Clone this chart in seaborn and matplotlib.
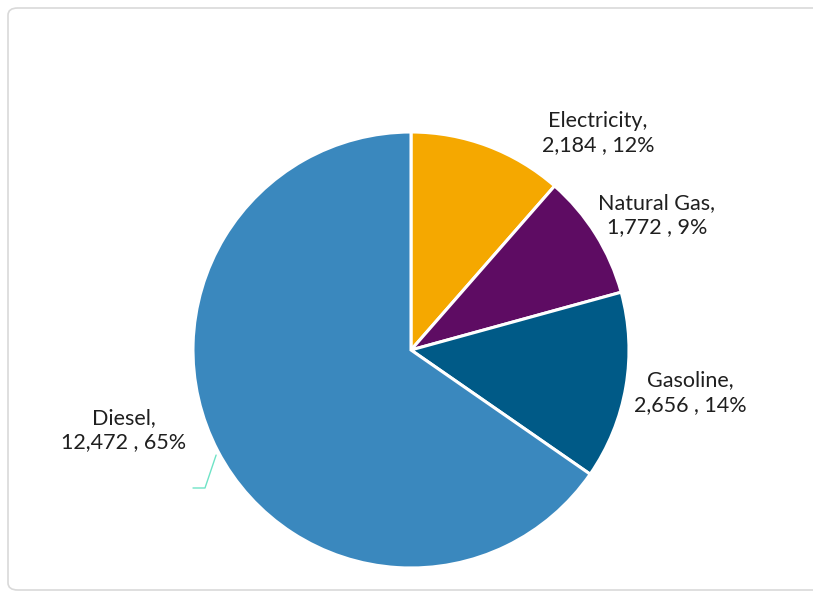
import matplotlib
matplotlib.use("Agg")
import matplotlib.pyplot as plt
from matplotlib.patches import FancyBboxPatch
import seaborn as sns

categories = ["Electricity", "Natural Gas", "Gasoline", "Diesel"]
values = [2184, 1772, 2656, 12472]
value_labels = ["2,184", "1,772", "2,656", "12,472"]
pct_labels = ["12%", "9%", "14%", "65%"]
colors = ["#F5A800", "#5E0C63", "#005A87", "#3A88BE"]

sns.set_theme(style="white")
plt.rcParams["font.family"] = ["Lato", "DejaVu Sans"]

fig = plt.figure(figsize=(8.13, 5.97), dpi=100)
fig.patch.set_facecolor("white")

frame = FancyBboxPatch((8 / 813, 7 / 597), 820 / 813, 582 / 597,
                       boxstyle="round,pad=0,rounding_size=0.012",
                       transform=fig.transFigure, facecolor="none",
                       edgecolor="#D9D9D9", linewidth=1.2, zorder=-1)
fig.patches.append(frame)

ax = fig.add_axes([193 / 813, 29 / 597, 436 / 813, 436 / 597])
ax.patch.set_alpha(0)
ax.pie(values, colors=colors, startangle=90, counterclock=False, radius=1,
       wedgeprops=dict(edgecolor="white", linewidth=2.2))
ax.set_xlim(-1, 1)
ax.set_ylim(-1, 1)
ax.axis("off")

label_pos = [(0.858, 0.995), (1.128, 0.619), (1.280, -0.197), (-1.317, -0.367)]
for cat, v, p, (x, y) in zip(categories, value_labels, pct_labels, label_pos):
    ax.text(x, y, f"{cat},\n{v} , {p}", ha="center", va="center",
            fontsize=15.5, color="#1F1F1F", linespacing=1.3, clip_on=False)

ax.plot([-0.894, -0.945, -1.0], [-0.482, -0.633, -0.633], color="#6EE3C6",
        linewidth=1.0, clip_on=False)

fig.savefig("out.png", dpi=100, facecolor="white")
